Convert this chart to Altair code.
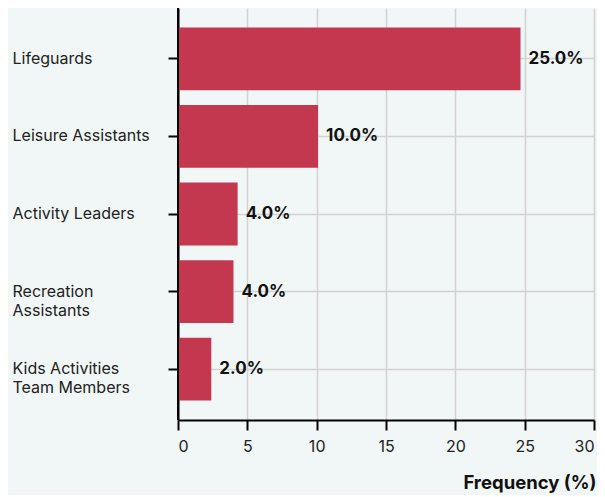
import altair as alt
import pandas as pd

categories = ["Lifeguards", "Leisure Assistants", "Activity Leaders",
              "Recreation Assistants", "Kids Activities Team Members"]
values = [24.7, 10.1, 4.3, 4.0, 2.4]
labels = ["25.0%", "10.0%", "4.0%", "4.0%", "2.0%"]
x_ticks = [0, 5, 10, 15, 20, 25, 30]
wrapped = {
    "Recreation Assistants": ["Recreation", "Assistants"],
    "Kids Activities Team Members": ["Kids Activities", "Team Members"],
}

df = pd.DataFrame({"category": categories, "value": values, "label": labels})

label_expr = ""
for k, v in wrapped.items():
    label_expr += f"datum.value == '{k}' ? [{', '.join(repr(s) for s in v)}] : "
label_expr += "datum.value"

FONT = "Inter"
BG = "#f0f7f6"
BAR = "#c3384f"

x_enc = alt.X(
    "value:Q",
    scale=alt.Scale(domain=[0, 30], nice=False),
    axis=alt.Axis(
        values=x_ticks, title="Frequency (%)", grid=True, gridColor="#d2d2d2",
        gridWidth=1.5, domainColor="#000", domainWidth=2, tickColor="#000",
        tickWidth=2, tickSize=10, labelFontSize=16, labelColor="#222",
        labelFont=FONT, labelPadding=8, titleFont=FONT, titleFontSize=18.5,
        titleFontWeight="bold", titleColor="#111", titleAlign="right",
        titleAnchor="end", titleX=418, titleY=62, titleBaseline="middle",
    ),
)
y_enc = alt.Y(
    "category:N", sort=categories,
    scale=alt.Scale(paddingInner=0.19, paddingOuter=0.25),
    axis=alt.Axis(
        title=None, grid=True, gridColor="#d2d2d2", gridWidth=1.5,
        domainColor="#000", domainWidth=2, tickColor="#000", tickWidth=2,
        tickSize=10, labelAlign="left", labelPadding=156, labelLimit=200,
        labelFontSize=16, labelFont=FONT, labelColor="#222",
        labelLineHeight=19, labelExpr=label_expr,
    ),
)

bars = alt.Chart(df).mark_bar(color=BAR).encode(x=x_enc, y=y_enc)
text = alt.Chart(df).mark_text(
    align="left", baseline="middle", dx=8, fontWeight="bold",
    fontSize=17, font=FONT, color="#111"
).encode(x="value:Q", y=alt.Y("category:N", sort=categories), text="label:N")
rule = alt.Chart(df).mark_rule(color="#000", strokeWidth=2).encode(x=alt.datum(0))

chart = alt.layer(bars, text, rule).properties(
    width=416, height=412, background=BG,
    autosize=alt.AutoSizeParams(type="none"),
    padding={"left": 170, "top": 0, "right": 3, "bottom": 75},
).configure_view(stroke=None)

chart.save("out.html", embed_options={"renderer": "svg", "actions": False})
